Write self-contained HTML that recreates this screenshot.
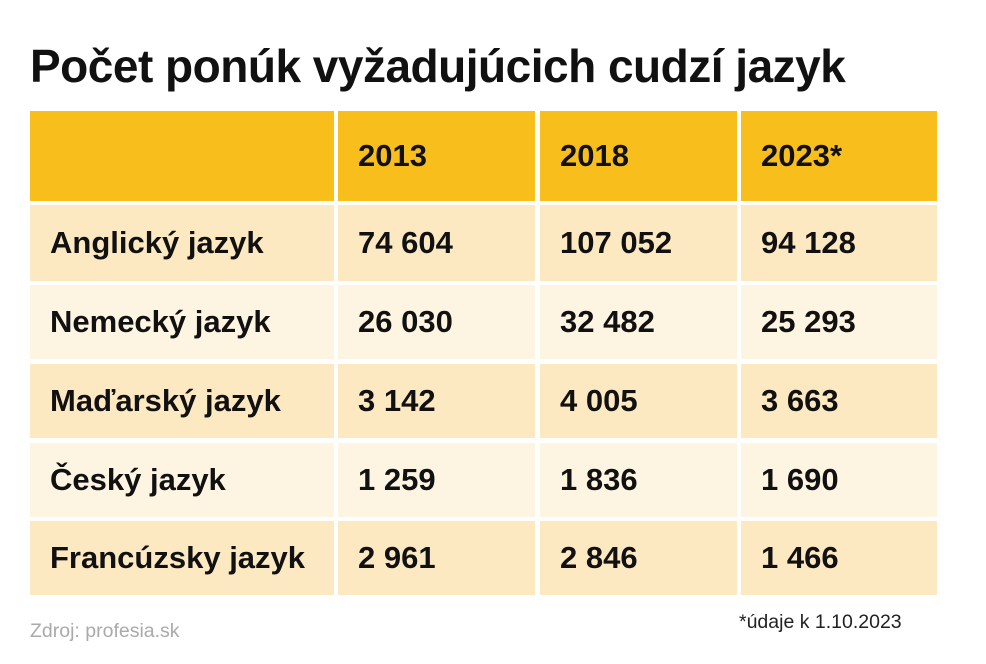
<!DOCTYPE html><html><head><style>
body{margin:0;width:986px;height:664px;background:#fff;font-family:"Liberation Sans",sans-serif;position:relative;overflow:hidden}
h1{position:absolute;left:30px;top:38px;margin:0;font-size:46px;line-height:56px;font-weight:bold;color:#111;letter-spacing:-0.5px}
.c{position:absolute;display:flex;align-items:center;font-weight:bold;font-size:31px;color:#111;box-sizing:border-box;padding-left:20px}
.s{position:absolute;font-size:19.5px}
</style></head><body>
<h1>Počet ponúk vyžadujúcich cudzí jazyk</h1>
<div id="t"></div>
<div class="s" style="left:30px;top:620px;color:#aaa">Zdroj: profesia.sk</div>
<div class="s" style="left:739px;top:611px;color:#222">*údaje k 1.10.2023</div>
<script>
var cols=[[30,304],[338,197],[540,197],[741,196]];
var rows=[[111,90],[205,76],[285,74],[364,74],[443,74],[521,74]];
var bg=['#F8BE1B','#FCE8C1','#FDF4E2','#FCE8C1','#FDF4E2','#FCE8C1'];
var d=[['','2013','2018','2023*'],['Anglický jazyk','74 604','107 052','94 128'],['Nemecký jazyk','26 030','32 482','25 293'],['Maďarský jazyk','3 142','4 005','3 663'],['Český jazyk','1 259','1 836','1 690'],['Francúzsky jazyk','2 961','2 846','1 466']];
var h='';
rows.forEach(function(r,i){cols.forEach(function(c,j){h+='<div class="c" style="left:'+c[0]+'px;top:'+r[0]+'px;width:'+c[1]+'px;height:'+r[1]+'px;background:'+bg[i]+'">'+d[i][j]+'</div>';});});
document.getElementById('t').innerHTML=h;
</script>
</body></html>
